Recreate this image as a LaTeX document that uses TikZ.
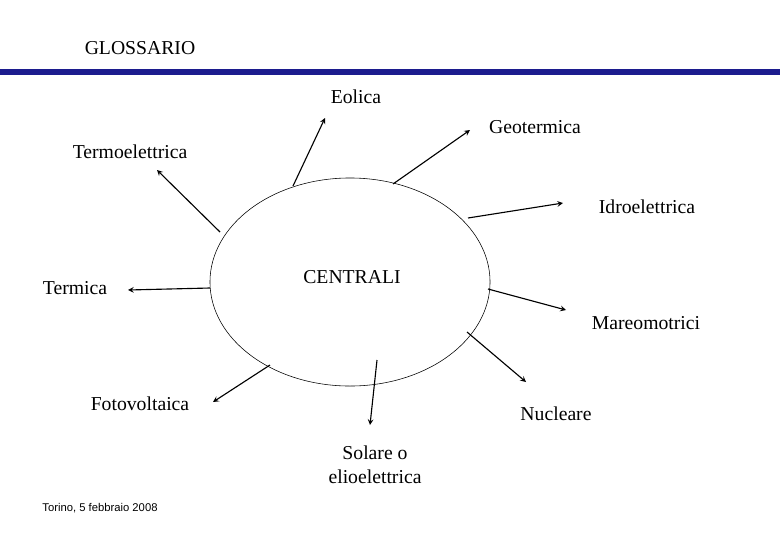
\documentclass[tikz,border=0pt]{standalone}
\usepackage{fontspec}
\setmainfont{Liberation Serif}
\setsansfont{Liberation Sans}
\usetikzlibrary{shapes.geometric, arrows, positioning}
\definecolor{barblue}{HTML}{1C1C8E}

\begin{document}
\begin{tikzpicture}[x=0.025cm, y=-0.025cm]
% Define styles
\tikzstyle{term} = [font=\fontsize{14}{17}\selectfont, align=center, inner sep=0pt]
\tikzstyle{arrow} = [thick,->,>=stealth]

\useasboundingbox (0,0) rectangle (780,540);
\fill[barblue] (0,69) rectangle (780,75);
\node (title) [term] at (140,48) {GLOSSARIO};

% Central ellipse
\node (centrali) [ellipse, draw, inner sep=0pt,
  minimum width=7cm, minimum height=5.2cm] at (350,282) {};
\node (centralitext) [term] at (352,277) {CENTRALI};

% Labels
\node (eolica) [term] at (356,97) {Eolica};
\node (geotermica) [term] at (535,127) {Geotermica};
\node (termoel) [term] at (130,152) {Termoelettrica};
\node (idroel) [term] at (647,207) {Idroelettrica};
\node (termica) [term] at (75,288) {Termica};
\node (mareo) [term] at (646,323) {Mareomotrici};
\node (fotov) [term] at (140,404) {Fotovoltaica};
\node (nucleare) [term] at (556,414) {Nucleare};
\node (solare) [term] at (375,465) {Solare o\\elioelettrica};
\node (footer) [font=\sffamily\fontsize{8}{10}\selectfont] at (100,508) {Torino, 5 febbraio 2008};

% Arrow ends
\coordinate (a1) at (293,186); \coordinate (b1) at (325,118);
\coordinate (a2) at (393,184); \coordinate (b2) at (470,130);
\coordinate (a3) at (220,232); \coordinate (b3) at (157,170);
\coordinate (a4) at (468,218); \coordinate (b4) at (563,203);
\coordinate (a5) at (210,288); \coordinate (b5) at (128,290);
\coordinate (a6) at (488,289); \coordinate (b6) at (566,310);
\coordinate (a7) at (270,365); \coordinate (b7) at (213,402);
\coordinate (a8) at (467,332); \coordinate (b8) at (526,382);
\coordinate (a9) at (377,360); \coordinate (b9) at (370,425);

% Arrows
\foreach \i in {1,...,9}
  \draw[arrow] (a\i) -- (b\i);
\end{tikzpicture}
\end{document}
